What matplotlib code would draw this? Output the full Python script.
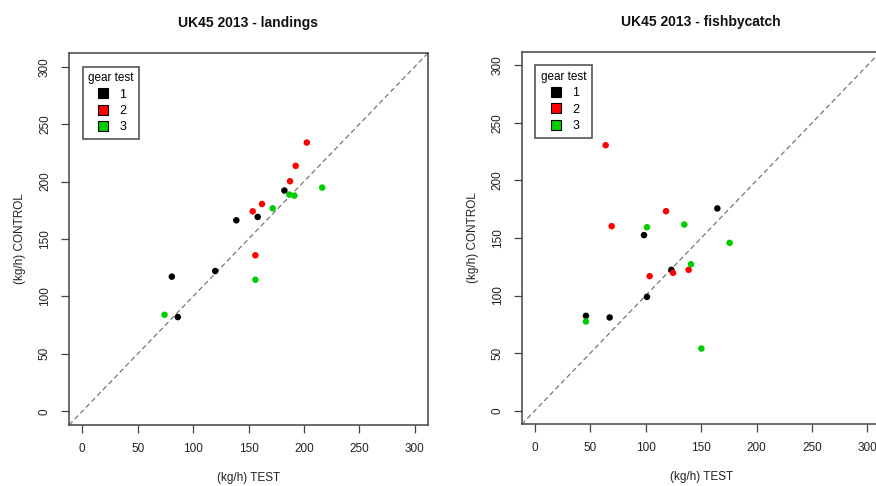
import matplotlib
matplotlib.use("Agg")
import matplotlib.pyplot as plt
from matplotlib.lines import Line2D
from matplotlib import font_manager as fm

names = {f.name for f in fm.fontManager.ttflist}
fam = [n for n in ["Liberation Sans Narrow", "Liberation Sans", "DejaVu Sans"] if n in names]
plt.rcParams['font.family'] = fam

# ---- data ----
gear_labels = ["1", "2", "3"]
gear_colors = ["#000000", "#FF0000", "#00CD00"]

land_test_1 = [80.8, 86.2, 120.0, 139.0, 158.3, 182.4]
land_ctrl_1 = [117.2, 82.0, 122.1, 166.3, 169.2, 192.2]
land_test_2 = [202.6, 192.6, 187.5, 162.2, 153.8, 156.2]
land_ctrl_2 = [234.0, 213.7, 200.3, 180.5, 174.1, 135.8]
land_test_3 = [74.2, 156.2, 171.8, 186.9, 191.4, 216.5]
land_ctrl_3 = [84.0, 114.5, 176.7, 188.7, 187.8, 194.8]

fish_test_1 = [46.0, 67.4, 98.4, 101.1, 123.1, 164.6]
fish_ctrl_1 = [82.3, 80.9, 152.5, 98.8, 122.3, 175.7]
fish_test_2 = [63.8, 69.2, 103.5, 118.3, 124.6, 138.7]
fish_ctrl_2 = [230.7, 160.3, 116.8, 173.3, 119.7, 122.3]
fish_test_3 = [46.0, 101.1, 134.8, 140.8, 175.7, 150.2]
fish_ctrl_3 = [77.4, 159.4, 161.7, 127.2, 145.8, 53.9]

ticks = [0, 50, 100, 150, 200, 250, 300]
titles = ["UK45 2013 - landings", "UK45 2013 - fishbycatch"]
xlabel = "(kg/h) TEST"
ylabel = "(kg/h) CONTROL"

panels = [
    [(land_test_1, land_ctrl_1), (land_test_2, land_ctrl_2), (land_test_3, land_ctrl_3)],
    [(fish_test_1, fish_ctrl_1), (fish_test_2, fish_ctrl_2), (fish_test_3, fish_ctrl_3)],
]

W, H = 876, 486
fig = plt.figure(figsize=(W / 100, H / 100), dpi=100)
fig.patch.set_facecolor("white")

boxes = [(69, 53, 428, 425), (521.7, 51.7, 880.6, 424.3)]
edge = "#444444"

for i, (x0, y0, x1, y1) in enumerate(boxes):
    ax = fig.add_axes([x0 / W, 1 - y1 / H, (x1 - x0) / W, (y1 - y0) / H])
    axw, axh = x1 - x0, y1 - y0
    ax.set_xlim(-12, 312)
    ax.set_ylim(-12, 312)
    ax.axline((0, 0), slope=1, color="#777777", lw=0.9, ls=(0, (4, 2.5)), zorder=1)
    for (xs, ys), c in zip(panels[i], gear_colors):
        ax.scatter(xs, ys, s=22, color=c, edgecolors="none", zorder=3)
    ax.set_xticks(ticks)
    ax.set_yticks(ticks)
    ax.set_xticklabels([str(t) for t in ticks])
    ax.set_yticklabels([str(t) for t in ticks], rotation=90, va="center")
    ax.tick_params(axis="both", length=6, width=0.9, color=edge, labelsize=8.5,
                   labelcolor="#222222")
    ax.tick_params(axis="x", pad=7)
    ax.tick_params(axis="y", pad=7)
    for s in ax.spines.values():
        s.set_color(edge)
        s.set_linewidth(1.1)
    ax.set_xlabel(xlabel, fontsize=8.5, color="#222222")
    ax.set_ylabel(ylabel, fontsize=8.5, color="#222222")
    ax.xaxis.set_label_coords(0.5, -47 / axh)
    ax.yaxis.set_label_coords(-43 / axw, 0.5)
    ax.text(0.5, 1 + 30 / axh, titles[i], transform=ax.transAxes, ha="center",
            va="center", fontsize=10, fontweight="bold", color="#111111")

    handles = [Line2D([], [], ls="none", marker="s", markersize=7,
                      markerfacecolor=c, markeredgecolor="black", markeredgewidth=0.8)
               for c in gear_colors]
    leg = ax.legend(handles, gear_labels, title="gear test", loc="upper left",
                    bbox_to_anchor=(13.7 / axw, 1 - 13.7 / axh), borderaxespad=0,
                    fancybox=False, framealpha=1, edgecolor="#555555",
                    fontsize=9, title_fontsize=8.5, handletextpad=0.7,
                    labelspacing=0.35, borderpad=0.45, handlelength=1.2)
    leg.get_frame().set_linewidth(1.2)

fig.savefig("out.png", dpi=100, facecolor="white")
